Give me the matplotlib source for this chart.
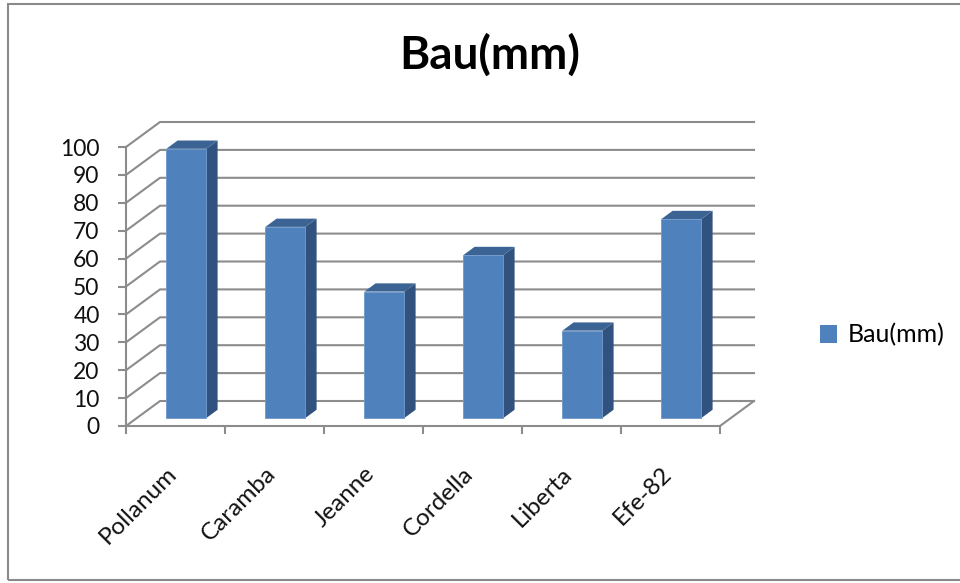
import matplotlib
matplotlib.use("Agg")
import matplotlib.pyplot as plt
from matplotlib.patches import Polygon, Rectangle, Patch
from matplotlib.lines import Line2D
from matplotlib.transforms import IdentityTransform, offset_copy
import numpy as np

plt.rcParams['font.family'] = ['Lato', 'DejaVu Sans']

# ---- data ----
title = "Bau(mm)"
series_name = "Bau(mm)"
categories = ["Pollanum", "Caramba", "Jeanne", "Cordella", "Liberta", "Efe-82"]
values = [96.5, 68.5, 45.3, 58.4, 31.3, 71.3]
y_ticks = list(range(0, 101, 10))

# ---- style ----
W, H, DPI = 960, 583, 100
grid_col = "#8c8c8c"
front_col = "#4F81BD"
side_col = "#31527F"
top_col = "#3B6394"
DEPTH = np.array([34.0, 25.0])      # pixel offset of back wall
bar_d0, bar_d1 = 0.32, 0.65         # bar depth span (fraction)
bar_w = 0.404                       # bar width in category units

fig = plt.figure(figsize=(W / DPI, H / DPI), dpi=DPI)
ax = fig.add_axes([126 / W, 1 - 426 / H, (720 - 126) / W, (426 - 147) / H])
ax.set_xlim(0, len(categories))
ax.set_ylim(0, 100)
ax.patch.set_visible(False)
for s in ["top", "right"]:
    ax.spines[s].set_visible(False)
for s in ["left", "bottom"]:
    ax.spines[s].set_color(grid_col)
    ax.spines[s].set_linewidth(1.5)

ax.set_yticks(y_ticks)
ax.set_yticklabels([str(t) for t in y_ticks])
ax.tick_params(axis="y", length=6, width=1.5, color=grid_col, pad=13,
               labelsize=16.5, labelcolor="#111111")
ax.set_xticks(np.arange(len(categories) + 1))
ax.set_xticklabels([])
ax.tick_params(axis="x", length=5.5, width=1.5, color=grid_col)

fig.canvas.draw()


def proj(x, y, d):
    p = ax.transData.transform((x, y))
    return p + d * DEPTH


def line3(pts, **kw):
    arr = np.array([proj(*p) for p in pts])
    fig.add_artist(Line2D(arr[:, 0], arr[:, 1], transform=IdentityTransform(), **kw))


def poly3(pts, **kw):
    arr = np.array([proj(*p) for p in pts])
    fig.add_artist(Polygon(arr, closed=True, transform=IdentityTransform(), **kw))


n = len(categories)
# back wall gridlines and side-wall diagonals
for v in y_ticks:
    line3([(0, v, 0), (0, v, 1), (n, v, 1)], color=grid_col, lw=1.5, zorder=1)
# floor right edge
line3([(n, 0, 0), (n, 0, 1)], color=grid_col, lw=1.5, zorder=1)

# bars
for i, v in enumerate(values):
    xl = i + 0.5 - bar_w / 2
    xr = i + 0.5 + bar_w / 2
    poly3([(xr, 0, bar_d0), (xr, 0, bar_d1), (xr, v, bar_d1), (xr, v, bar_d0)],
          facecolor=side_col, edgecolor="none", zorder=3)
    poly3([(xl, v, bar_d0), (xr, v, bar_d0), (xr, v, bar_d1), (xl, v, bar_d1)],
          facecolor=top_col, edgecolor="none", zorder=3)
    poly3([(xl, 0, bar_d0), (xr, 0, bar_d0), (xr, v, bar_d0), (xl, v, bar_d0)],
          facecolor=front_col, edgecolor="#6f97c9", lw=0.6, zorder=4)

# category labels
lab_tr = offset_copy(ax.transData, fig=fig, x=5, y=-37, units="dots")
for i, c in enumerate(categories):
    ax.text(i + 0.5, 0, c, transform=lab_tr, rotation=45, ha="right", va="top",
            fontsize=17.5, color="#111111", clip_on=False)

# title
fig.text(490 / W, 1 - 55 / H, title, ha="center", va="center",
         fontsize=33, fontweight="bold", color="#000000")

# legend
fig.legend(handles=[Patch(facecolor=front_col, edgecolor="none")],
           labels=[series_name], loc="center left",
           bbox_to_anchor=(797 / W, 1 - 335 / H), frameon=False,
           fontsize=18, handlelength=0.7, handleheight=0.7, handletextpad=0.45)

# chart border
fig.add_artist(Rectangle((8 / W, 1 - 580 / H), 1.0, (580 - 4) / H,
                         transform=fig.transFigure, fill=False,
                         edgecolor="#8a8a8a", lw=1.5))

fig.savefig("out.png", dpi=DPI)
